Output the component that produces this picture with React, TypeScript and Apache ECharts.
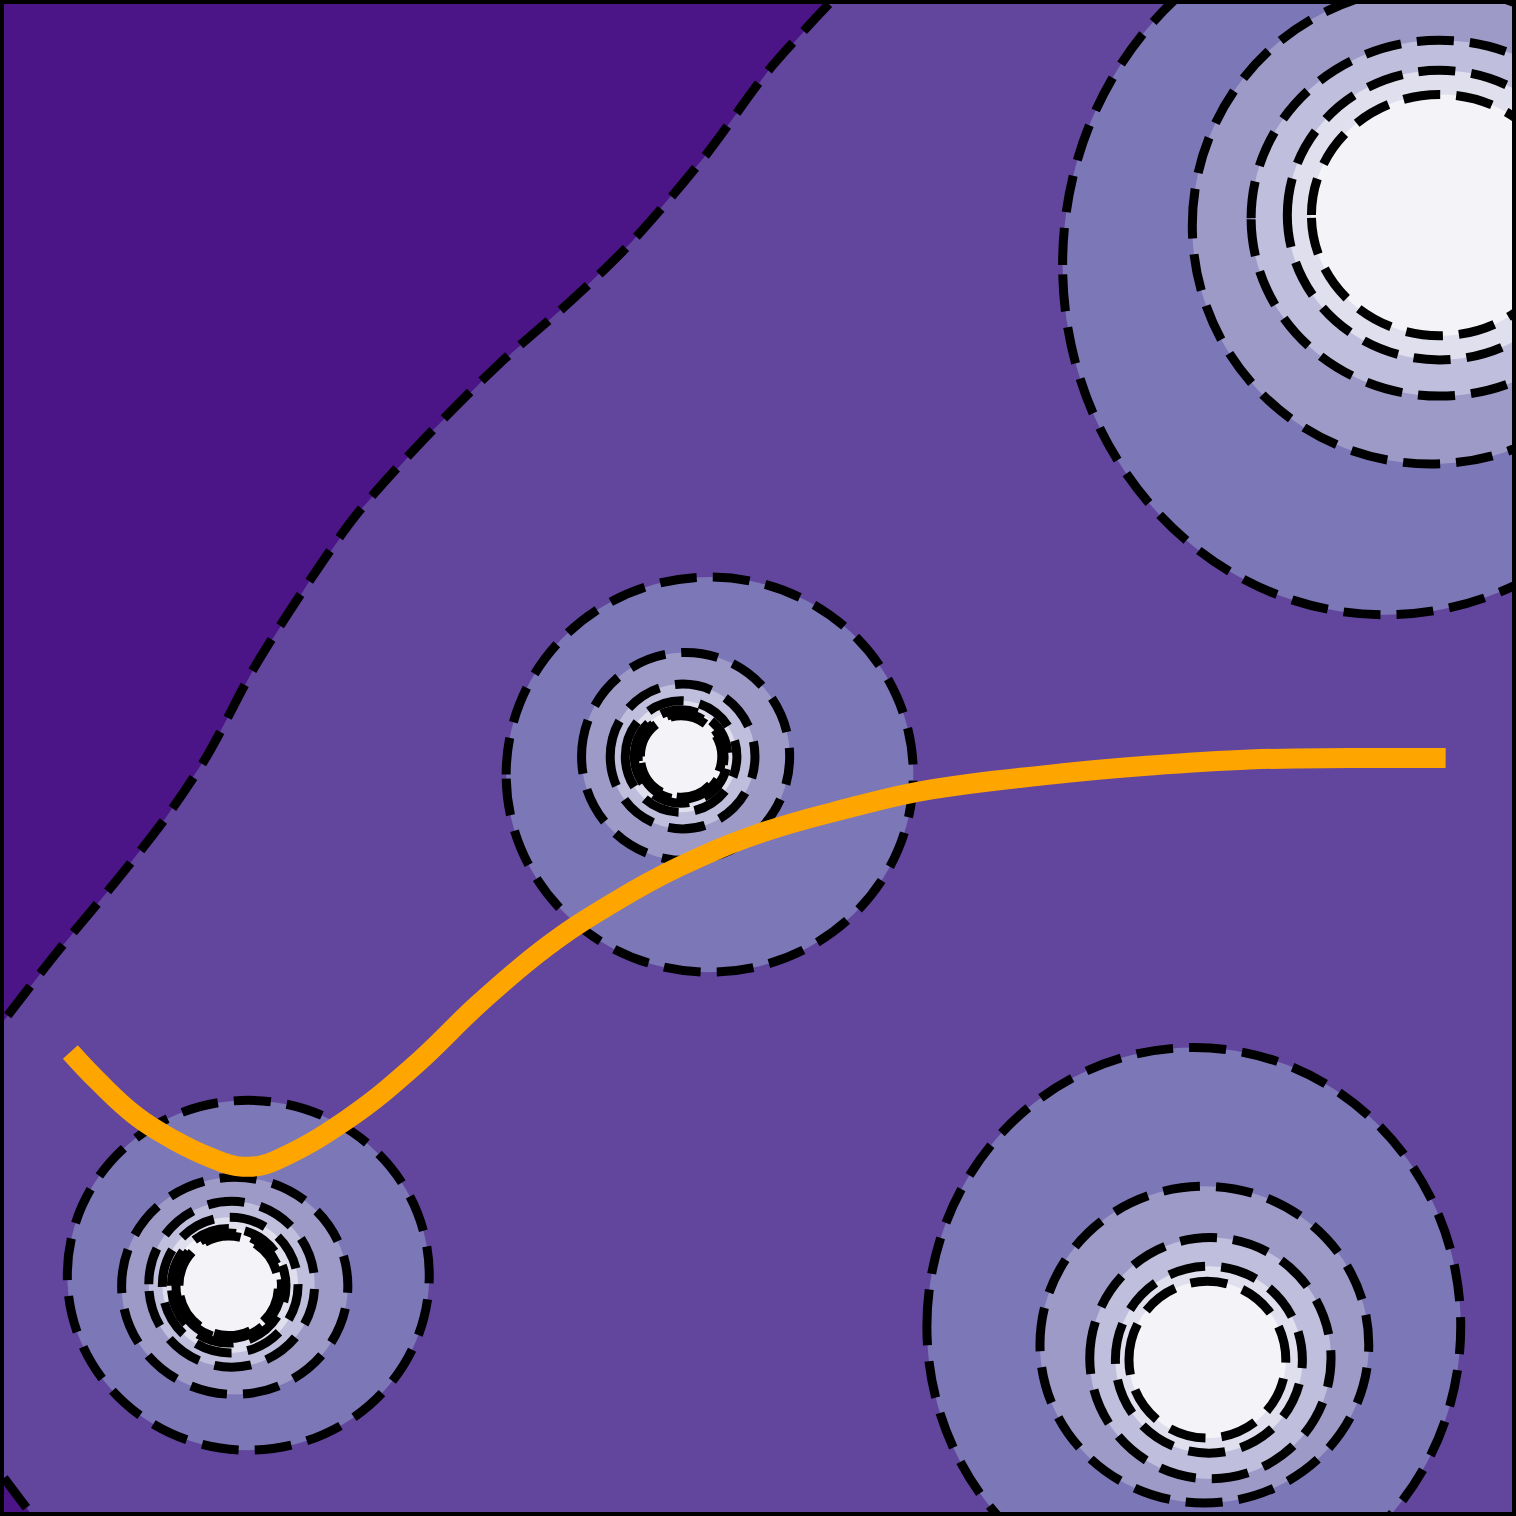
import React, { useEffect, useRef } from 'react';
import * as echarts from 'echarts';

// colours of the filled levels (Purples), darkest first
const levelColors = ['#4b1587', '#62459c', '#7c77b7', '#9e9ac8', '#bfbfdd', '#e0dfee', '#f4f3f8'];

// contour rings: [cx, cy, rx, ry, level inside]
const topRightRings = [
  [9.16, 8.27, 2.14, 2.32, 2],
  [9.46, 8.53, 1.58, 1.58, 3],
  [9.52, 8.58, 1.25, 1.18, 4],
  [9.52, 8.6, 1.01, 0.96, 5],
  [9.52, 8.6, 0.85, 0.8, 6],
];
const middleRings = [
  [4.68, 4.89, 1.35, 1.31, 2],
  [4.52, 5.01, 0.69, 0.69, 3],
  [4.5, 5.01, 0.48, 0.48, 4],
  [4.49, 5.01, 0.37, 0.37, 5],
  [4.49, 5.01, 0.31, 0.31, 6],
  [4.49, 5.01, 0.285, 0.285, 6],
  [4.49, 5.01, 0.27, 0.27, 6],
];
const bottomLeftRings = [
  [1.62, 1.57, 1.2, 1.16, 2],
  [1.53, 1.5, 0.75, 0.72, 3],
  [1.51, 1.51, 0.55, 0.55, 4],
  [1.5, 1.505, 0.45, 0.45, 5],
  [1.49, 1.5, 0.38, 0.38, 6],
  [1.49, 1.5, 0.35, 0.35, 6],
  [1.49, 1.5, 0.33, 0.33, 6],
];
const bottomRightRings = [
  [7.89, 1.23, 1.77, 1.85, 2],
  [7.96, 1.11, 1.09, 1.05, 3],
  [8.0, 1.02, 0.8, 0.8, 4],
  [7.99, 1.01, 0.62, 0.62, 5],
  [7.98, 1.01, 0.52, 0.52, 6],
];

// boundary of the darkest level, from the top edge down to the left edge
const darkEdge = [
  [5.47, 10], [5.07, 9.56], [4.64, 8.98], [4.16, 8.42], [3.78, 8.05],
  [3.28, 7.61], [2.79, 7.12], [2.35, 6.63], [2.03, 6.18], [1.66, 5.6],
  [1.35, 5.02], [1.07, 4.6], [0.74, 4.18], [0.35, 3.71], [0, 3.26],
];
const darkCorner = [[0, 10]];
const cornerEdge = [[0, 0.225], [0.17, 0]];
const cornerPoint = [[0, 0]];

// the orange path
const pathX = [0.44, 0.62, 0.87, 1.12, 1.37, 1.58, 1.8, 2.27, 2.71, 3.16, 3.6, 4.04, 4.48, 5.01, 5.61, 6.14, 6.94, 7.6, 8.26, 8.93, 9.56];
const pathY = [3.05, 2.86, 2.63, 2.47, 2.35, 2.29, 2.33, 2.6, 2.95, 3.38, 3.75, 4.04, 4.28, 4.5, 4.67, 4.79, 4.89, 4.95, 4.99, 5.0, 5.0];

const allRings = [...topRightRings, ...middleRings, ...bottomLeftRings, ...bottomRightRings];
const dash = [37, 16];
const contourWidth = 9;

const App: React.FC = () => {
  const chartRef = useRef<HTMLDivElement>(null);

  useEffect(() => {
    if (!chartRef.current) return;
    document.body.style.margin = '0';
    const chart = echarts.init(chartRef.current, undefined, { renderer: 'svg' });

    const ringSeries = (stroke: boolean): any => ({
      type: 'custom',
      coordinateSystem: 'cartesian2d',
      clip: true,
      z: stroke ? 3 : 1,
      silent: true,
      data: allRings,
      renderItem: (_params: any, api: any) => {
        const c = api.coord([api.value(0), api.value(1)]);
        const s = api.size([api.value(2), api.value(3)]);
        return {
          type: 'ellipse',
          shape: { cx: c[0], cy: c[1], rx: s[0], ry: s[1] },
          style: stroke
            ? { fill: 'none', stroke: '#000', lineWidth: contourWidth, lineDash: dash }
            : { fill: levelColors[api.value(4)] },
        };
      },
    });

    const areaSeries = (edge: number[][], corner: number[][]): any => ({
      type: 'custom',
      coordinateSystem: 'cartesian2d',
      clip: true,
      z: 2,
      silent: true,
      data: [0],
      renderItem: (_params: any, api: any) => {
        const fillPts = [...corner, ...edge].map((p) => api.coord(p));
        const linePts = edge.map((p) => api.coord(p));
        return {
          type: 'group',
          children: [
            { type: 'polygon', shape: { points: fillPts }, style: { fill: levelColors[0] } },
            {
              type: 'polyline',
              shape: { points: linePts, smooth: 0.3 },
              style: { fill: 'none', stroke: '#000', lineWidth: contourWidth, lineDash: dash },
            },
          ],
        };
      },
    });

    chart.setOption({
      animation: false,
      grid: {
        left: 4,
        top: 4,
        width: 1508,
        height: 1508,
        show: true,
        backgroundColor: levelColors[1],
        borderWidth: 0,
      },
      xAxis: { type: 'value', min: 0, max: 10, show: false },
      yAxis: { type: 'value', min: 0, max: 10, show: false },
      series: [
        ringSeries(false),
        areaSeries(darkEdge, darkCorner),
        areaSeries(cornerEdge, cornerPoint),
        ringSeries(true),
        {
          type: 'custom',
          coordinateSystem: 'cartesian2d',
          clip: true,
          z: 4,
          silent: true,
          data: [0],
          renderItem: (_params: any, api: any) => ({
            type: 'polyline',
            shape: {
              points: pathX.map((x, i) => api.coord([x, pathY[i]])),
              smooth: 0.4,
            },
            style: { fill: 'none', stroke: '#ffa500', lineWidth: 20, lineCap: 'butt' },
          }),
        },
      ],
      graphic: [
        {
          type: 'rect',
          z: 100,
          silent: true,
          shape: { x: 2, y: 2, width: 1512, height: 1512 },
          style: { fill: 'none', stroke: '#000', lineWidth: 4 },
        },
      ],
    });

    return () => {
      chart.dispose();
    };
  }, []);

  return <div ref={chartRef} style={{ width: 1516, height: 1516 }} />;
};

export default App;
